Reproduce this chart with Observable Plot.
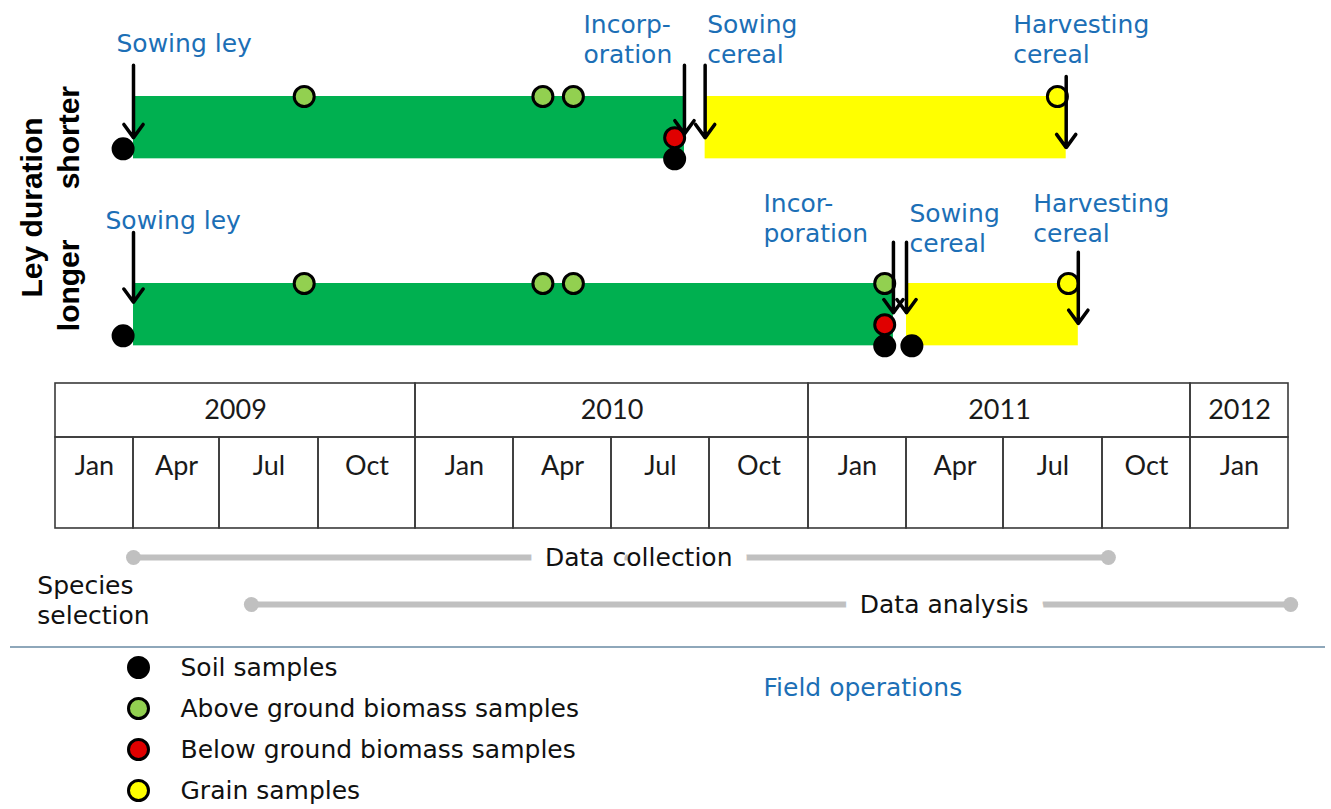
<!DOCTYPE html>
<html>
<head>
<meta charset="utf-8">
<script src="https://cdn.jsdelivr.net/npm/d3@7"></script>
<script src="https://cdn.jsdelivr.net/npm/@observablehq/plot@0.6"></script>
<style>
  body { margin: 0; background: #fff; }
  #chart { width: 1331px; }
  #chart svg { display: block; }
  .sep { margin-left: 10px; width: 1315px; height: 0; border-top: 2px solid #8ea7ba; }
</style>
</head>
<body>
<div id="chart"></div>
<script>
// ---------------- DATA ----------------
const rows = ["shorter", "longer"];

const operations = [
  {row: "shorter", op: "Sowing ley",        date: "2009-04-01", label: "Sowing ley"},
  {row: "shorter", op: "Incorporation",     date: "2010-09-08", label: "Incorp-\noration"},
  {row: "shorter", op: "Sowing cereal",     date: "2010-09-27", label: "Sowing\ncereal"},
  {row: "shorter", op: "Harvesting cereal", date: "2011-08-28", label: "Harvesting\ncereal"},
  {row: "longer",  op: "Sowing ley",        date: "2009-04-01", label: "Sowing ley"},
  {row: "longer",  op: "Incorporation",     date: "2011-03-19", label: "Incor-\nporation"},
  {row: "longer",  op: "Sowing cereal",     date: "2011-03-31", label: "Sowing\ncereal"},
  {row: "longer",  op: "Harvesting cereal", date: "2011-09-09", label: "Harvesting\ncereal"}
];

const sampleTypes = ["Soil samples", "Above ground biomass samples", "Below ground biomass samples", "Grain samples"];
const sampleColors = ["#000000", "#92d050", "#e00000", "#ffff00"];

const samples = [
  {row: "shorter", type: "Soil samples",                 date: "2009-03-19"},
  {row: "shorter", type: "Above ground biomass samples", date: "2009-09-18"},
  {row: "shorter", type: "Above ground biomass samples", date: "2010-04-28"},
  {row: "shorter", type: "Above ground biomass samples", date: "2010-05-26"},
  {row: "shorter", type: "Soil samples",                 date: "2010-08-29"},
  {row: "shorter", type: "Below ground biomass samples", date: "2010-08-29"},
  {row: "shorter", type: "Grain samples",                date: "2011-08-20"},
  {row: "longer",  type: "Soil samples",                 date: "2009-03-19"},
  {row: "longer",  type: "Above ground biomass samples", date: "2009-09-18"},
  {row: "longer",  type: "Above ground biomass samples", date: "2010-04-28"},
  {row: "longer",  type: "Above ground biomass samples", date: "2010-05-26"},
  {row: "longer",  type: "Above ground biomass samples", date: "2011-03-11"},
  {row: "longer",  type: "Soil samples",                 date: "2011-03-11"},
  {row: "longer",  type: "Soil samples",                 date: "2011-04-06"},
  {row: "longer",  type: "Below ground biomass samples", date: "2011-03-11"},
  {row: "longer",  type: "Grain samples",                date: "2011-08-30"}
];

const yearSpans = [
  {year: "2009", start: "2009-01-01", end: "2010-01-01"},
  {year: "2010", start: "2010-01-01", end: "2011-01-01"},
  {year: "2011", start: "2011-01-01", end: "2012-01-01"},
  {year: "2012", start: "2012-01-01", end: "2012-04-01"}
];
const quarterLabels = ["Jan", "Apr", "Jul", "Oct"];

const phases = [
  {name: "Data collection", start: "2009-04-01", end: "2011-10-07", labelAt: "2010-07-26"},
  {name: "Data analysis",   start: "2009-07-30", end: "2012-04-03", labelAt: "2011-05-06"}
];
const speciesSelection = {label: "Species\nselection", date: "2008-12-10"};

// ---------------- LAYOUT / STYLE ----------------
const BLUE = "#1c6fb6";
const FONT = "DejaVu Sans, Verdana, sans-serif";
const BOLD_FONT = "Liberation Sans, Arial, sans-serif";
const QUARTER_EDGES = [55,133,219,318,415,513,611,709,808,906,1003,1102,1190,1288];
const QUARTER_MONTHS = d3.range(0, 40, 3);
const xOpt = {type: "linear", domain: QUARTER_MONTHS, range: QUARTER_EDGES, axis: null};
const xs = d3.scaleLinear().domain(QUARTER_MONTHS).range(QUARTER_EDGES);

const mi = s => { const [y, m, d] = s.split("-").map(Number); return (y - 2009) * 12 + (m - 1) + (d - 1) / 30; };

const ROW_TOP = {shorter: 0, longer: 3};          // in bar-height units
const LEVEL = {"Soil samples": 1, "Above ground biomass samples": 0, "Below ground biomass samples": 0.66, "Grain samples": 0};
const LAYOUT = {
  "shorter|Sowing ley":        {base: -0.706, dx: -17,  a1: -0.50, a2: 0.66},
  "shorter|Incorporation":     {base: -0.53,  dx: -101, a1: -0.50, a2: 0.60},
  "shorter|Sowing cereal":     {base: -0.53,  dx: 2,    a1: -0.50, a2: 0.66},
  "shorter|Harvesting cereal": {base: -0.53,  dx: -53,  a1: -0.32, a2: 0.82},
  "longer|Sowing ley":         {base: -0.88,  dx: -28,  a1: -0.82, a2: 0.30},
  "longer|Incorporation":      {base: -0.66,  dx: -130, a1: -0.66, a2: 0.47},
  "longer|Sowing cereal":      {base: -0.50,  dx: 3,    a1: -0.66, a2: 0.47},
  "longer|Harvesting cereal":  {base: -0.66,  dx: -45,  a1: -0.50, a2: 0.64}
};

const chart = document.getElementById("chart");
const colorOpt = {domain: [...sampleTypes, "ley", "cereal"], range: [...sampleColors, "#00b050", "#ffff00"]};

// ---------------- PLOT 1: timeline ----------------
const opsD = operations.map(o => ({...o, m: mi(o.date), top: ROW_TOP[o.row], L: LAYOUT[o.row + "|" + o.op]}));
const crops = rows.flatMap(r => {
  const g = name => opsD.find(o => o.row === r && o.op === name).m;
  return [
    {row: r, crop: "ley",    x1: g("Sowing ley"),    x2: g("Incorporation"),     top: ROW_TOP[r]},
    {row: r, crop: "cereal", x1: g("Sowing cereal"), x2: g("Harvesting cereal"), top: ROW_TOP[r]}
  ];
});
const sampD = samples.map(s => {
  const sow = opsD.find(o => o.row === s.row && o.op === "Sowing ley").m;
  const m = mi(s.date);
  let lvl = LEVEL[s.type];
  if (s.type === "Soil samples" && m < sow) lvl = 0.84;
  return {...s, m, y: ROW_TOP[s.row] + lvl};
}).sort((a, b) => (a.type === "Soil samples" ? 0 : 1) - (b.type === "Soil samples" ? 0 : 1));

const p1 = Plot.plot({
  width: 1331, height: 375, margin: 0,
  x: xOpt,
  y: {domain: [0, 3], range: [96, 283], axis: null},
  color: colorOpt,
  style: {fontFamily: FONT, background: "white"},
  marks: [
    Plot.rect(crops, {x1: "x1", x2: "x2", y1: d => d.top, y2: d => d.top + 1, fill: "crop"}),
    Plot.dot(sampD, {x: "m", y: "y", r: 10, fill: "type", stroke: "black", strokeWidth: 3}),
    Plot.arrow(opsD, {x1: "m", x2: "m", y1: d => d.top + d.L.a1, y2: d => d.top + d.L.a2,
      stroke: "black", strokeWidth: 3.5, headLength: 7, headAngle: 72}),
    ...opsD.map(o => Plot.text([o], {x: "m", y: d => d.top + d.L.base, text: "label", dx: o.L.dx,
      textAnchor: "start", lineAnchor: "bottom", lineHeight: 1.2, fontSize: 25, fill: BLUE, fontFamily: FONT})),
    Plot.text(["Ley duration"], {frameAnchor: "left", dx: 32, y: () => 1.78, rotate: -90,
      textAnchor: "middle", lineAnchor: "middle",
      fontWeight: "bold", fontSize: 30, fontFamily: BOLD_FONT, fill: "black"}),
    Plot.text(rows, {frameAnchor: "left", dx: 69, y: r => (r === "shorter" ? 0.66 : 3.03), rotate: -90,
      textAnchor: "middle", lineAnchor: "middle",
      fontWeight: "bold", fontSize: 30, fontFamily: BOLD_FONT, fill: "black"})
  ]
});
chart.appendChild(p1);

// ---------------- PLOT 2: calendar table ----------------
const yearCells = yearSpans.map(y => ({label: y.year, m1: mi(y.start), m2: mi(y.end)}));
const quarterCells = yearSpans.flatMap(y => d3.range(mi(y.start), mi(y.end), 3)
  .map(m => ({label: quarterLabels[(m % 12) / 3], m1: m, m2: m + 3})));
const mid = d => xs.invert((xs(d.m1) + xs(d.m2)) / 2);
const LINE = "#3a3a3a";

const p2 = Plot.plot({
  width: 1331, height: 165, margin: 0,
  x: xOpt,
  y: {domain: [0, 1], range: [8, 62], axis: null},
  style: {background: "white"},
  marks: [
    Plot.rect(yearCells, {x1: "m1", x2: "m2", y1: () => 0, y2: () => 1, fill: "none", stroke: LINE, strokeWidth: 1.6}),
    Plot.rect(quarterCells, {x1: "m1", x2: "m2", y1: () => 1, y2: () => 2.685, fill: "none", stroke: LINE, strokeWidth: 1.6}),
    Plot.text(yearCells, {x: mid, y: () => 0.5, text: "label", fontSize: 27, fontFamily: "Lato, sans-serif", fill: "#1a1a1a"}),
    Plot.text(quarterCells, {x: mid, y: () => 1.537, text: "label", fontSize: 27, fontFamily: "Lato, sans-serif", fill: "#1a1a1a"})
  ]
});
chart.appendChild(p2);

// ---------------- PLOT 3: project phases ----------------
const phaseEnds = phases.flatMap(p => [{name: p.name, m: mi(p.start)}, {name: p.name, m: mi(p.end)}]);
const p3 = Plot.plot({
  width: 1331, height: 106, margin: 0,
  x: xOpt,
  y: {type: "point", domain: phases.map(p => p.name), range: [17, 64], padding: 0, axis: null},
  style: {fontFamily: FONT, background: "white"},
  marks: [
    Plot.ruleY(phases, {y: "name", x1: d => mi(d.start), x2: d => mi(d.end), stroke: "#c0c0c0", strokeWidth: 6}),
    Plot.dot(phaseEnds, {x: "m", y: "name", r: 7.5, fill: "#c0c0c0"}),
    Plot.text(phases, {x: d => mi(d.labelAt), y: "name", text: "name", fontSize: 25, fill: "#111",
      stroke: "white", strokeWidth: 32, strokeLinejoin: "round", paintOrder: "stroke", fontFamily: FONT}),
    Plot.text([speciesSelection], {x: d => mi(d.date), y: () => phases[0].name, dy: 15, text: "label",
      textAnchor: "start", lineAnchor: "top", lineHeight: 1.2, fontSize: 25, fill: "#111", fontFamily: FONT})
  ]
});
chart.appendChild(p3);

const sep = document.createElement("div");
sep.className = "sep";
chart.appendChild(sep);

// ---------------- PLOT 4: legend ----------------
const p4 = Plot.plot({
  width: 1331, height: 161, margin: 0,
  y: {type: "point", domain: sampleTypes, range: [19, 142], padding: 0, axis: null},
  color: colorOpt,
  style: {fontFamily: FONT, background: "white"},
  marks: [
    Plot.dot(sampleTypes, {y: d => d, fill: d => d, frameAnchor: "left", dx: 138, r: 10, stroke: "black", strokeWidth: 3}),
    Plot.text(sampleTypes, {y: d => d, text: d => d, frameAnchor: "left", dx: 180, textAnchor: "start",
      fontSize: 25, fill: "#111", fontFamily: FONT}),
    Plot.text(["Field operations"], {y: () => sampleTypes[0], dy: 20, frameAnchor: "left", dx: 763,
      textAnchor: "start", fontSize: 25, fill: BLUE, fontFamily: FONT})
  ]
});
chart.appendChild(p4);
</script>
</body>
</html>
